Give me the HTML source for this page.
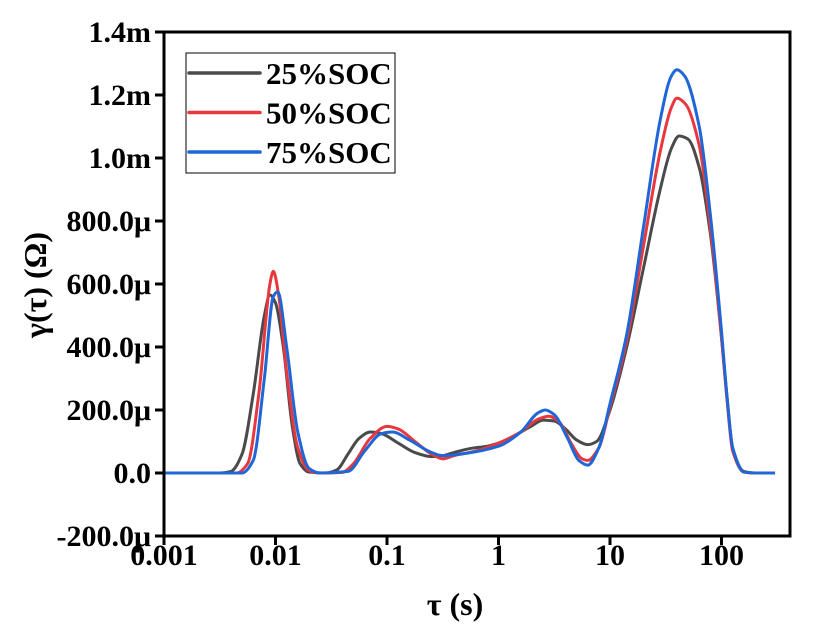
<!DOCTYPE html>
<html><head><meta charset="utf-8"><style>
body{margin:0;background:#fff}
svg{display:block;font-family:"Liberation Serif",serif;font-weight:bold}
</style></head><body>
<svg id="c" width="825" height="637"></svg>
<script>
const xTicks=[-3,-2,-1,0,1,2];
const xTickLabels=["0.001","0.01","0.1","1","10","100"];
const yTicks=[-200,0,200,400,600,800,1000,1200,1400];
const yTickLabels=["-200.0μ","0.0","200.0μ","400.0μ","600.0μ","800.0μ","1.0m","1.2m","1.4m"];
const seriesNames=["25%SOC","50%SOC","75%SOC"];
const seriesColors=["#4a4a4a","#e8383d","#1f66d6"];
const logTau25=[-3,-2.5,-2.4,-2.3,-2.2,-2.1,-2.05,-2.0,-1.93,-1.85,-1.78,-1.7,-1.55,-1.45,-1.35,-1.25,-1.15,-1.05,-0.9,-0.75,-0.6,-0.5,-0.4,-0.25,-0.1,0,0.15,0.3,0.4,0.5,0.6,0.7,0.8,0.88,1.0,1.15,1.3,1.45,1.55,1.62,1.7,1.8,1.9,2.0,2.05,2.1,2.2,2.3,2.48];
const gamma25=[0,0,5,60,250,500,565,540,400,150,30,3,0,10,60,110,130,125,95,65,52,55,65,78,85,95,120,150,168,165,140,105,90,100,200,400,650,900,1030,1070,1060,970,760,430,240,80,5,0,0];
const logTau50=[-3,-2.35,-2.25,-2.15,-2.05,-2.02,-1.97,-1.9,-1.8,-1.7,-1.6,-1.4,-1.3,-1.15,-1.0,-0.9,-0.75,-0.6,-0.5,-0.4,-0.2,0,0.2,0.35,0.45,0.55,0.65,0.75,0.8,0.9,1.0,1.15,1.3,1.45,1.55,1.6,1.68,1.8,1.9,2.0,2.05,2.1,2.2,2.3,2.48];
const gamma50=[0,0,30,250,600,640,560,320,80,8,0,2,30,110,148,140,100,60,45,55,70,95,130,170,180,160,95,45,40,80,210,420,720,1020,1160,1190,1170,1040,780,430,230,70,3,0,0];
const logTau75=[-3,-2.3,-2.2,-2.1,-2.02,-1.98,-1.9,-1.8,-1.7,-1.6,-1.35,-1.2,-1.05,-0.95,-0.8,-0.6,-0.5,-0.3,0,0.2,0.35,0.42,0.5,0.62,0.72,0.8,0.9,1.0,1.15,1.3,1.45,1.55,1.6,1.67,1.8,1.9,2.0,2.05,2.1,2.2,2.3,2.48];
const gamma75=[0,0,40,300,560,575,400,130,15,0,5,70,125,130,105,65,55,62,85,130,190,200,185,110,40,25,80,220,440,780,1120,1260,1280,1260,1100,820,450,240,80,3,0,0];
const L=164,R=790,T=32,B=536;
const X=v=>L+(v+3)*111.5;
const Y=v=>B-(v+200)/1600*(B-T);
const NS="http://www.w3.org/2000/svg";
const svg=document.getElementById('c');
function mk(t,a,p){const e=document.createElementNS(NS,t);for(const k in a)e.setAttribute(k,a[k]);(p||svg).appendChild(e);return e;}
function path(xs,ys){
  const px=xs.map(X),py=ys.map(Y),n=px.length;
  const d=[],m=[];
  for(let i=0;i<n-1;i++)d.push((py[i+1]-py[i])/(px[i+1]-px[i]));
  m[0]=d[0];m[n-1]=d[n-2];
  for(let i=1;i<n-1;i++){m[i]=(d[i-1]*d[i]<=0)?0:2/(1/d[i-1]+1/d[i]);}
  let s="M"+px[0]+","+py[0];
  for(let i=0;i<n-1;i++){const h=(px[i+1]-px[i])/3;
    s+=" C"+(px[i]+h)+","+(py[i]+m[i]*h)+" "+(px[i+1]-h)+","+(py[i+1]-m[i+1]*h)+" "+px[i+1]+","+py[i+1];}
  return s;}
const data=[[logTau25,gamma25],[logTau50,gamma50],[logTau75,gamma75]];
data.forEach((s,i)=>{const p=mk('path',{d:path(s[0],s[1]),fill:'none',stroke:seriesColors[i],'stroke-width':3,'stroke-linejoin':'round'});

});
const frame=mk('rect',{x:L,y:T,width:R-L,height:B-T,fill:'none',stroke:'#000','stroke-width':3});


xTicks.forEach((v,i)=>{mk('line',{x1:X(v),x2:X(v),y1:B,y2:B+9,stroke:'#000','stroke-width':3});
const t=mk('text',{x:X(v),y:565,'text-anchor':'middle','font-size':30});t.textContent=xTickLabels[i];

});
yTicks.forEach((v,i)=>{mk('line',{x1:L-9,x2:L,y1:Y(v),y2:Y(v),stroke:'#000','stroke-width':3});
const t=mk('text',{x:151,y:Y(v)+10,'text-anchor':'end','font-size':30});t.textContent=yTickLabels[i];

});
const xt=mk('text',{x:455,y:615,'text-anchor':'middle','font-size':32});xt.textContent="τ (s)";


const yt=mk('text',{x:0,y:0,'text-anchor':'middle','font-size':32,transform:'translate(46,285) rotate(-90)'});yt.textContent="γ(τ) (Ω)";


const lg=mk('g',{});


mk('rect',{x:186,y:53,width:209,height:120,fill:'#fff',stroke:'#000','stroke-width':1},lg);
seriesNames.forEach((n,i)=>{const y=73+i*39.5;
mk('line',{x1:189,x2:260,y1:y,y2:y,stroke:seriesColors[i],'stroke-width':3.5,'stroke-linecap':'round'},lg);
const t=mk('text',{x:266,y:y+11,'font-size':31},lg);t.textContent=n;

});
</script>
</body></html>
